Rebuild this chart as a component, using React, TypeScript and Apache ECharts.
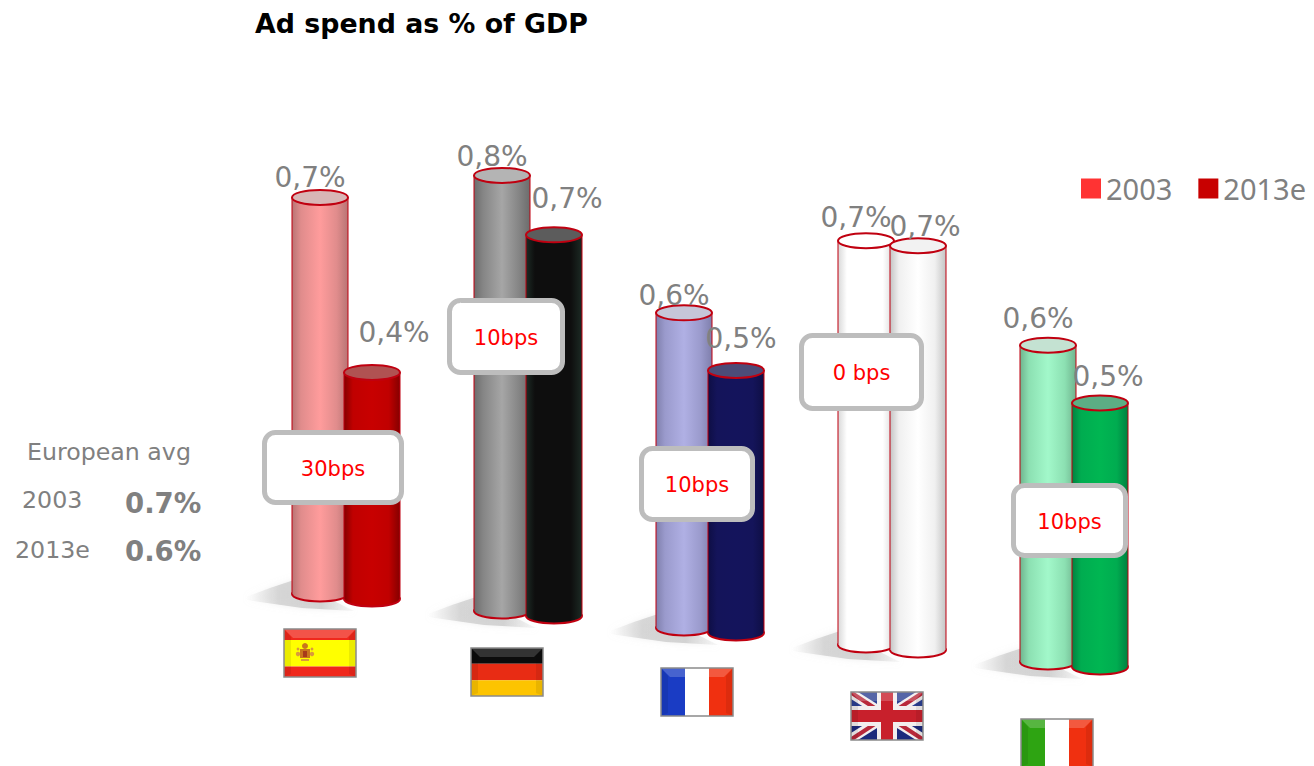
import React, { useEffect, useRef } from "react";
import * as echarts from "echarts";

// Ad spend as a share of GDP, by country
const countries = ["Spain", "Germany", "France", "UK", "Italy"];
const seriesNames = ["2003", "2013e"];
const values2003 = [0.7, 0.8, 0.6, 0.7, 0.6];
const values2013e = [0.4, 0.7, 0.5, 0.7, 0.5];
const bpsLabels = ["30bps", "10bps", "10bps", "0 bps", "10bps"];
const avgRows = [
  ["2003", "0.7%"],
  ["2013e", "0.6%"],
];

const FONT = '"DejaVu Sans", Verdana, sans-serif';
const GREY = "#808080";

// Cylinder appearance, one entry per country: [edge, mid, highlight, cap]
const bodyColors = [
  [
    ["#b87474", "#e08c8c", "#ff9c9c", "#d8b6b6"],
    ["#840000", "#c00000", "#c80000", "#b05252"],
  ],
  [
    ["#6c6c6c", "#858585", "#a6a6a6", "#b4b4b4"],
    ["#1c2a24", "#0e0e0e", "#0e0e0e", "#5c5c5c"],
  ],
  [
    ["#7f7fac", "#9a9acc", "#b0b0e4", "#c6c6d8"],
    ["#0e0e44", "#14145a", "#14145c", "#4c4c78"],
  ],
  [
    ["#d8d8d8", "#ffffff", "#ffffff", "#ffffff"],
    ["#c4c4c4", "#f0f0f0", "#ffffff", "#f2f2f2"],
  ],
  [
    ["#6fb48e", "#8ce0b2", "#a2f8ca", "#c4e2d2"],
    ["#008040", "#00ac50", "#00b652", "#5cae84"],
  ],
];

// Pseudo-3D layout of the receding row of cylinders
const BAND_SHIFT = 26;
const RX = 28;
const RY = 7.5;
const BASE_STEP = 17;
const SERIES_DROP = 5;
const depthScale = [1.03, 0.99, 0.955, 1.05, 0.96];
const labelOffsets = [
  [[-10, -20], [22, -40]],
  [[-10, -19], [13, -36]],
  [[-10, -17], [5, -32]],
  [[-10, -23], [7, -19]],
  [[-10, -27], [8, -27]],
];
const boxes = [
  [262, 430, 142, 75],
  [447, 298, 118, 77],
  [639, 446, 116, 76],
  [799, 333, 125, 78],
  [1011, 483, 117, 75],
];
const flagOrigins = [
  [284, 629],
  [471, 648],
  [661, 668],
  [851, 692],
  [1021, 719],
];

const FW = 72;
const FH = 48;

function hGrad(stops: [number, string][]) {
  return {
    type: "linear",
    x: 0,
    y: 0,
    x2: 1,
    y2: 0,
    colorStops: stops.map(([offset, color]) => ({ offset, color })),
  };
}

function cylinderRenderer(seriesIndex: number) {
  return (_params: any, api: any) => {
    const cat = api.value(0);
    const value = api.value(1);
    const [cx0, y0] = api.coord([cat, 0]);
    const yv = api.coord([cat, value])[1];
    const cx = cx0 + (seriesIndex === 0 ? -BAND_SHIFT : BAND_SHIFT);
    const base = y0 + BASE_STEP * cat + SERIES_DROP * seriesIndex;
    const top = base - (y0 - yv) * depthScale[cat];
    const [edge, mid, light, cap] = bodyColors[cat][seriesIndex];
    const fill = hGrad([
      [0, edge],
      [0.16, mid],
      [0.5, light],
      [0.8, mid],
      [1, edge],
    ]);
    const stroke = "#c00010";
    const [lx, ly] = labelOffsets[cat][seriesIndex];
    const label = value.toFixed(1).replace(".", ",") + "%";
    return {
      type: "group",
      children: [
        {
          type: "ellipse",
          shape: { cx, cy: base, rx: RX, ry: RY },
          style: { fill, stroke, lineWidth: 2 },
        },
        {
          type: "rect",
          shape: { x: cx - RX, y: top, width: RX * 2, height: base - top },
          style: { fill },
        },
        {
          type: "line",
          shape: { x1: cx - RX, y1: top, x2: cx - RX, y2: base },
          style: { stroke, lineWidth: 1.2, opacity: 0.85 },
        },
        {
          type: "line",
          shape: { x1: cx + RX, y1: top, x2: cx + RX, y2: base },
          style: { stroke, lineWidth: 1.2, opacity: 0.85 },
        },
        {
          type: "ellipse",
          shape: { cx, cy: top, rx: RX, ry: RY },
          style: { fill: cap, stroke, lineWidth: 2 },
        },
        {
          type: "text",
          style: {
            text: label,
            x: cx + lx,
            y: top + ly,
            fill: GREY,
            font: `28px ${FONT}`,
            align: "center",
            verticalAlign: "middle",
          },
        },
      ],
    };
  };
}

// Soft ground shadow falling to the left of each pair of cylinders
function shadowRenderer(_params: any, api: any) {
  const cat = api.value(0);
  const [cx0, y0] = api.coord([cat, 0]);
  const x = cx0 - BAND_SHIFT - RX;
  const y = y0 + BASE_STEP * cat;
  return {
    type: "polygon",
    shape: {
      points: [
        [x - 46, y + 3],
        [x - 22, y - 6],
        [x + 2, y - 14],
        [x + 40, y + 6],
        [x + 62, y + 17],
        [x + 10, y + 14],
        [x - 46, y + 6],
      ],
    },
    style: {
      fill: hGrad([
        [0, "rgba(215,215,215,0)"],
        [0.3, "rgba(205,205,205,0.75)"],
        [0.7, "rgba(205,205,205,0.85)"],
        [1, "rgba(225,225,225,0.25)"],
      ]),
      shadowBlur: 6,
      shadowColor: "rgba(215,215,215,0.5)",
    },
  };
}

function rect(x: number, y: number, width: number, height: number, fill: string) {
  return { type: "rect", shape: { x, y, width, height }, style: { fill } };
}

function poly(points: number[][], fill: string, opacity = 1) {
  return { type: "polygon", shape: { points }, style: { fill, opacity } };
}

function hStripes(colors: string[], cuts: number[]) {
  return colors.map((c, i) => rect(0, cuts[i] * FH, FW, (cuts[i + 1] - cuts[i]) * FH, c));
}

function vStripes(colors: string[]) {
  return colors.map((c, i) => rect((i * FW) / 3, 0, FW / 3, FH, c));
}

function spainCrest() {
  const c = "#c9761c";
  const dot = (cx: number, cy: number, r: number, fill: string) => ({
    type: "circle",
    shape: { cx, cy, r },
    style: { fill },
  });
  return [
    dot(21, 17, 3, c),
    rect(16, 20, 10, 9, c),
    rect(19, 22, 4, 6, "#a83a1a"),
    dot(14, 25, 2.2, "#d99a3c"),
    dot(28, 25, 2.2, "#d99a3c"),
    dot(14, 20, 1.4, "#d99a3c"),
    dot(28, 20, 1.4, "#d99a3c"),
    rect(17, 30, 8, 2, "#d99a3c"),
  ];
}

function unionJack() {
  const w = FW;
  const h = FH;
  const t = 7;
  const r = 3;
  const diag = (d: number, fill: string) => [
    poly([[0, 0], [d, 0], [w, h - d], [w, h], [w - d, h], [0, d]], fill),
    poly([[w, 0], [w, d], [d, h], [0, h], [0, h - d], [w - d, 0]], fill),
  ];
  return [
    rect(0, 0, w, h, "#1c2a7c"),
    rect(0, 0, w, h / 3, "#2c3f92"),
    ...diag(t, "#f2eeee"),
    ...diag(r, "#b8283a"),
    rect(w / 2 - 10, 0, 20, h, "#f2eeee"),
    rect(0, h / 2 - 10, w, 20, "#f2eeee"),
    rect(w / 2 - 6, 0, 12, h, "#c8202c"),
    rect(0, h / 2 - 6, w, 12, "#c8202c"),
  ];
}

const flagBodies = [
  () => [...hStripes(["#f0281c", "#ffff00", "#f0281c"], [0, 0.23, 0.78, 1]), ...spainCrest()],
  () => hStripes(["#0c0c0c", "#e82c14", "#fdc400"], [0, 0.33, 0.67, 1]),
  () => vStripes(["#1a3cc4", "#ffffff", "#f03010"]),
  unionJack,
  () => vStripes(["#2ea412", "#ffffff", "#f03010"]),
];

function flagGraphic(i: number) {
  const [x, y] = flagOrigins[i];
  return {
    type: "group",
    x,
    y,
    children: [
      ...flagBodies[i](),
      // glossy bevel on the upper edge and the sides
      poly([[0, 0], [FW, 0], [FW - 9, 9], [9, 9]], "#ffffff", i === 1 ? 0.16 : 0.2),
      poly([[0, 0], [7, 8], [7, FH - 3], [0, FH]], "#000000", 0.08),
      poly([[FW, 0], [FW - 7, 8], [FW - 7, FH - 3], [FW, FH]], "#000000", 0.08),
      {
        type: "rect",
        shape: { x: 0, y: 0, width: FW, height: FH },
        style: { fill: "none", stroke: "#8a8a8a", lineWidth: 1.5 },
      },
    ],
  };
}

function plainText(text: string, x: number, y: number, font: string, fill = GREY, align = "left") {
  return {
    type: "text",
    z: 20,
    x,
    y,
    style: { text, fill, font, align, verticalAlign: "middle" },
  };
}

function buildOption() {
  const avgY = [500, 550];
  const avgValueY = [503, 551];
  const avgLabelX = [22, 15];
  return {
    animation: false,
    backgroundColor: "#ffffff",
    title: {
      text: "Ad spend as % of GDP",
      left: 250,
      top: 5,
      textStyle: { fontFamily: FONT, fontWeight: "bold", fontSize: 26.8, color: "#000000" },
    },
    legend: {
      data: seriesNames,
      orient: "horizontal",
      left: 1081,
      top: 174,
      padding: 0,
      icon: "rect",
      itemWidth: 20,
      itemHeight: 20,
      itemGap: 26,
      selectedMode: false,
      textStyle: { fontFamily: '"Noto Sans"', fontSize: 29, color: GREY },
    },
    grid: { left: 255, width: 910, top: 44, height: 550 },
    xAxis: { type: "category", data: countries, show: false },
    yAxis: { type: "value", min: 0, max: 1, show: false },
    series: [
      {
        type: "custom",
        silent: true,
        clip: false,
        z: 1,
        renderItem: shadowRenderer,
        encode: { x: 0, y: 1 },
        data: values2003.map((_, i) => [i, 0]),
      },
      {
        name: seriesNames[0],
        type: "custom",
        silent: true,
        clip: false,
        z: 2,
        itemStyle: { color: "#ff3333" },
        renderItem: cylinderRenderer(0),
        encode: { x: 0, y: 1 },
        data: values2003.map((v, i) => [i, v]),
      },
      {
        name: seriesNames[1],
        type: "custom",
        silent: true,
        clip: false,
        z: 3,
        itemStyle: { color: "#c80000" },
        renderItem: cylinderRenderer(1),
        encode: { x: 0, y: 1 },
        data: values2013e.map((v, i) => [i, v]),
      },
    ],
    graphic: {
      elements: [
        ...countries.map((_, i) => flagGraphic(i)),
        ...bpsLabels.flatMap((label, i) => {
          const [x, y, width, height] = boxes[i];
          return [
            {
              type: "rect",
              z: 10,
              shape: { x: x + 2.5, y: y + 2.5, width: width - 5, height: height - 5, r: 11 },
              style: { fill: "#ffffff", stroke: "#bdbdbd", lineWidth: 5 },
            },
            plainText(label, x + width / 2, y + height / 2 + 1, `21px ${FONT}`, "#ff0000", "center"),
          ];
        }),
        plainText("European avg", 27, 452, `23.7px ${FONT}`),
        ...avgRows.flatMap(([year, pct], i) => [
          plainText(year, avgLabelX[i], avgY[i], `23.7px ${FONT}`),
          plainText(pct, 125, avgValueY[i], `bold 27.5px ${FONT}`),
        ]),
      ],
    },
  };
}

export default function App() {
  const ref = useRef<HTMLDivElement>(null);
  useEffect(() => {
    if (!ref.current) return;
    const chart = echarts.init(ref.current, null, { renderer: "svg" });
    chart.setOption(buildOption() as any);
    return () => chart.dispose();
  }, []);
  return (
    <div
      ref={ref}
      style={{ position: "absolute", left: 0, top: 0, width: 1314, height: 766, overflow: "hidden" }}
    />
  );
}
